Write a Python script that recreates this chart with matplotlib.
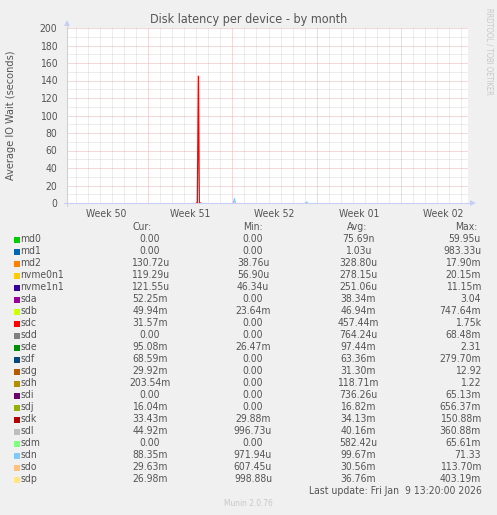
import matplotlib
matplotlib.use("Agg")
import matplotlib.pyplot as plt
from matplotlib.patches import Rectangle, Polygon

plt.rcParams["font.family"] = "DejaVu Sans"
plt.rcParams["font.stretch"] = "condensed"

# x axis is in days since Monday 00:00 of week 50 (2h per data point)
x_start, x_end = 0.25, 33.58
week_starts = [0, 7, 14, 21, 28]
week_labels = ["Week 50", "Week 51", "Week 52", "Week 01", "Week 02"]

# visible features in the month view (nan = gap)
nan = float("nan")
sdc_t = [11.0, 11.083, 11.167, 11.25, 11.333]
sdc_v = [0.0, 0.0, 145.0, 0.0, 0.0]
sdn_t = [14.083, 14.167, 14.25, 20.2, 20.083, 20.167, 20.25]
sdn_v = [0.0, 5.0, 0.0, nan, 0.0, 1.0, 0.0]

devices = ["md0", "md1", "md2", "nvme0n1", "nvme1n1", "sda", "sdb", "sdc",
           "sdd", "sde", "sdf", "sdg", "sdh", "sdi", "sdj", "sdk", "sdl",
           "sdm", "sdn", "sdo", "sdp"]
colors = ["#00CC00", "#0066B3", "#FF8000", "#FFCC00", "#330099", "#990099",
          "#CCFF00", "#FF0000", "#808080", "#008F00", "#00487D", "#B35A00",
          "#B38F00", "#6B006B", "#8FB300", "#B30000", "#BEBEBE", "#80FF80",
          "#80C9FF", "#FFC080", "#FFE680"]
cur = ["0.00", "0.00", "130.72u", "119.29u", "121.55u", "52.25m", "49.94m",
       "31.57m", "0.00", "95.08m", "68.59m", "29.92m", "203.54m", "0.00",
       "16.04m", "33.43m", "44.92m", "0.00", "88.35m", "29.63m", "26.98m"]
mins = ["0.00", "0.00", "38.76u", "56.90u", "46.34u", "0.00", "23.64m",
        "0.00", "0.00", "26.47m", "0.00", "0.00", "0.00", "0.00", "0.00",
        "29.88m", "996.73u", "0.00", "971.94u", "607.45u", "998.88u"]
avgs = ["75.69n", "1.03u", "328.80u", "278.15u", "251.06u", "38.34m",
        "46.94m", "457.44m", "764.24u", "97.44m", "63.36m", "31.30m",
        "118.71m", "736.26u", "16.82m", "34.13m", "40.16m", "582.42u",
        "99.67m", "30.56m", "36.76m"]
maxs = ["59.95u", "983.33u", "17.90m", "20.15m", "11.15m", "3.04", "747.64m",
        "1.75k", "68.48m", "2.31", "279.70m", "12.92", "1.22", "65.13m",
        "656.37m", "150.88m", "360.88m", "65.61m", "71.33", "113.70m",
        "403.19m"]

W, H = 497, 515
BG = "#F0F0F0"
FONT = "#555555"
AXIS = "#C8CEF6"

fig = plt.figure(figsize=(W / 100, H / 100), dpi=100, facecolor=BG)
L, R, T, B = 67, 468, 28, 203
ax = fig.add_axes([L / W, 1 - B / H, (R - L) / W, (B - T) / H])
ax.set_facecolor("white")


def fx(px):
    return px / W


def fy(py):
    return 1 - py / H


# grid
for d in range(1, 34):
    if d % 7 != 0:
        ax.axvline(d, color="#DADADA", lw=0.72, ls=(0, (1, 1)), zorder=1)
for v in range(10, 200, 20):
    ax.axhline(v, color="#DADADA", lw=0.72, ls=(0, (1, 1)), zorder=1)
for d in week_starts[1:]:
    ax.axvline(d, color="#E8B4B4", lw=0.72, ls=(0, (1, 1)), zorder=2)
for v in range(20, 201, 20):
    ax.axhline(v, color="#E8B4B4", lw=0.72, ls=(0, (1, 1)), zorder=2)

ax.plot(sdc_t, sdc_v, color="#FF0000", lw=0.9, zorder=3)
ax.plot(sdn_t, sdn_v, color="#80C9FF", lw=0.9, zorder=3)

ax.set_xlim(x_start, x_end)
ax.set_ylim(0, 200)
for s in ax.spines.values():
    s.set_visible(False)
ax.set_yticks(range(0, 201, 20))
ax.set_yticklabels([str(v) for v in range(0, 201, 20)])
ax.set_xticks([w + 3.5 for w in week_starts])
ax.set_xticklabels(week_labels)
ax.tick_params(axis="both", length=0, labelsize=7.5, colors=FONT, pad=4)
ax.tick_params(axis="y", pad=7)

# axes lines with arrows
fig.add_artist(plt.Line2D([fx(L), fx(L)], [fy(206), fy(24)], color=AXIS, lw=0.8))
fig.add_artist(plt.Line2D([fx(64), fx(472)], [fy(B), fy(B)], color=AXIS, lw=0.8))
fig.add_artist(Polygon([[fx(L - 3), fy(26)], [fx(L + 3), fy(26)], [fx(L), fy(20)]],
                       closed=True, color=AXIS, lw=0))
fig.add_artist(Polygon([[fx(470), fy(B - 3)], [fx(470), fy(B + 3)], [fx(476), fy(B)]],
                       closed=True, color=AXIS, lw=0))

fig.text(fx(248.5), fy(20), "Disk latency per device - by month", ha="center",
         va="center", fontsize=9, color=FONT)
fig.text(fx(11), fy(115.5), "Average IO Wait (seconds)", rotation=90,
         ha="center", va="center", fontsize=7.8, color=FONT)
fig.text(fx(489), fy(51), "RRDTOOL / TOBI OETIKER", rotation=270,
         ha="center", va="center", fontsize=5.5, color="#C8C8C8")

# legend table
fs = 7.5
fig.text(fx(142), fy(227), "Cur:", ha="center", va="center", fontsize=fs, color=FONT)
fig.text(fx(253), fy(227), "Min:", ha="center", va="center", fontsize=fs, color=FONT)
fig.text(fx(357), fy(227), "Avg:", ha="center", va="center", fontsize=fs, color=FONT)
fig.text(fx(466), fy(227), "Max:", ha="center", va="center", fontsize=fs, color=FONT)
for i, name in enumerate(devices):
    y = 239.5 + 12 * i
    fig.add_artist(Rectangle((fx(14), fy(y + 3)), 6 / W, 6 / H,
                             color=colors[i], lw=0))
    fig.text(fx(20.5), fy(y), name, ha="left", va="center", fontsize=fs, color=FONT)
    fig.text(fx(150), fy(y), cur[i], ha="center", va="center", fontsize=fs, color=FONT)
    fig.text(fx(253), fy(y), mins[i], ha="center", va="center", fontsize=fs, color=FONT)
    fig.text(fx(358), fy(y), avgs[i], ha="center", va="center", fontsize=fs, color=FONT)
    fig.text(fx(481), fy(y), maxs[i], ha="right", va="center", fontsize=fs, color=FONT)

fig.text(fx(482), fy(491), "Last update: Fri Jan  9 13:20:00 2026", ha="right",
         va="center", fontsize=fs, color=FONT)
fig.text(fx(248), fy(503), "Munin 2.0.76", ha="center", va="center",
         fontsize=6, color="#C8C8C8")

fig.savefig("out.png", dpi=100, facecolor=BG)
